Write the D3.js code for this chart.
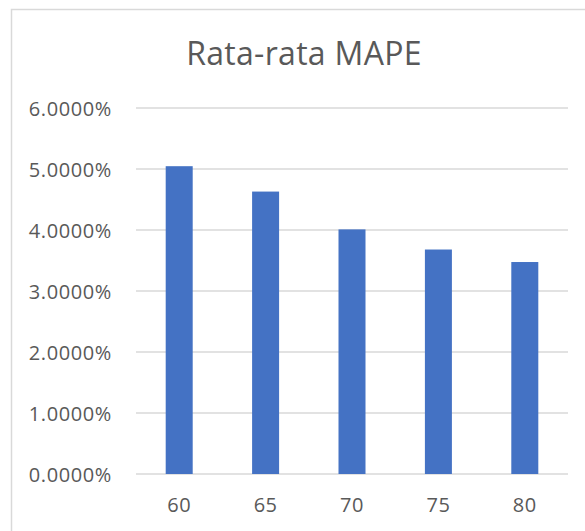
<!DOCTYPE html>
<html><head><meta charset="utf-8">
<script src="https://cdn.jsdelivr.net/npm/d3@7"></script>
<style>
html,body{margin:0;padding:0;background:#fff;}
svg{display:block;}
text{font-family:"Open Sans",sans-serif;fill:#595959;}
</style></head>
<body>
<svg id="c" width="585" height="531"></svg>
<script>
const title = "Rata-rata MAPE";
const categories = ["60","65","70","75","80"];
const values = [0.05046, 0.0463, 0.0401, 0.0368, 0.03475];
const yTicks = [0, 0.01, 0.02, 0.03, 0.04, 0.05, 0.06];

const svg = d3.select("#c");
const W = 585, H = 531;
const m = {left:136, right:17, top:108, bottom:57};

// chart border
svg.append("path")
  .attr("d", `M11.5,${H} V9.5 H${W}`)
  .attr("fill","none").attr("stroke","#d9d9d9").attr("stroke-width",1.5);

const x = d3.scaleBand().domain(categories)
  .range([m.left, W - m.right]).paddingInner(0.6875).paddingOuter(0.34375);
const y = d3.scaleLinear().domain([0, 0.06]).range([H - m.bottom, m.top]);

// gridlines
svg.append("g").selectAll("line").data(yTicks).join("line")
  .attr("x1", m.left).attr("x2", W - m.right)
  .attr("y1", d => y(d)).attr("y2", d => y(d))
  .attr("stroke","#d9d9d9").attr("stroke-width",1.5);

// y axis labels
const fmt = d3.format(".4%");
const yAxis = d3.axisLeft(y).tickValues(yTicks).tickFormat(fmt).tickSize(0).tickPadding(0);
const gy = svg.append("g").attr("transform", `translate(112,0)`).call(yAxis);
gy.select(".domain").remove();
gy.selectAll("text").attr("font-size", 20).attr("letter-spacing", 0.6)
  .attr("font-family", "Open Sans").attr("fill", "#595959").attr("dy","0.35em");

// bars
svg.append("g").selectAll("rect").data(values).join("rect")
  .attr("x", (d,i) => x(categories[i]))
  .attr("width", x.bandwidth())
  .attr("y", d => y(d))
  .attr("height", d => y(0) - y(d))
  .attr("fill", "#4472c4");

// x axis labels
const xAxis = d3.axisBottom(x).tickSize(0).tickPadding(0);
const gx = svg.append("g").attr("transform", `translate(0,${y(0)+31})`).call(xAxis);
gx.select(".domain").remove();
gx.selectAll("text").attr("font-size", 20).attr("letter-spacing", 0.5)
  .attr("font-family", "Open Sans").attr("fill", "#595959").attr("dy","0.35em").attr("y",0);

// title
svg.append("text").attr("x", 304).attr("y", 65)
  .attr("text-anchor","middle").attr("font-size", 32).attr("letter-spacing", 0.3)
  .text(title);
</script>
</body></html>
